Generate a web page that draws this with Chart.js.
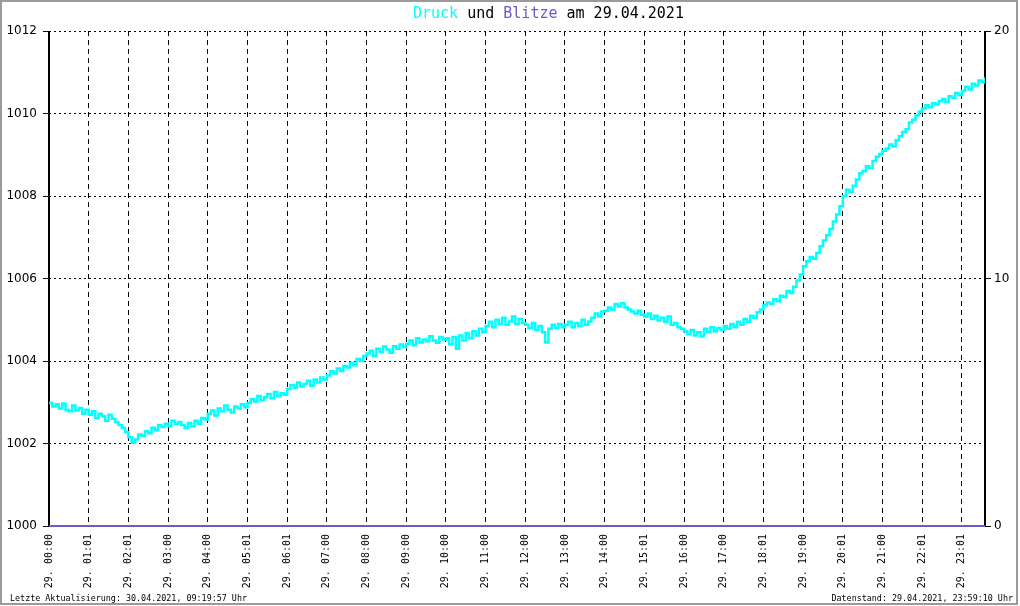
<!DOCTYPE html>
<html>
<head>
<meta charset="utf-8">
<title>Druck und Blitze am 29.04.2021</title>
<script src="https://cdn.jsdelivr.net/npm/chart.js@4/dist/chart.umd.min.js"></script>
<style>
  html, body { margin: 0; padding: 0; background: #fff; }
  #wrap { width: 1020px; height: 606px; }
</style>
</head>
<body>
<div id="wrap"><canvas id="chart" width="1020" height="606"></canvas></div>
<script>
// ── Tick labels (one per hour, 12 samples per hour) ──
const HOUR_LABELS = [
  "29. 00:00", "29. 01:01", "29. 02:01", "29. 03:00", "29. 04:00", "29. 05:01",
  "29. 06:01", "29. 07:00", "29. 08:00", "29. 09:00", "29. 10:00", "29. 11:00",
  "29. 12:00", "29. 13:00", "29. 14:00", "29. 15:01", "29. 16:00", "29. 17:00",
  "29. 18:01", "29. 19:00", "29. 20:01", "29. 21:00", "29. 22:01", "29. 23:01"
];
const SAMPLES_PER_HOUR = 12;

// ── Luftdruck (hPa), 5-min samples ──
const PRESSURE = [
  1002.98, 1002.90, 1002.95, 1002.85, 1002.97, 1002.82, 1002.78, 1002.92, 1002.80, 1002.86, 1002.72, 1002.82, // 00
  1002.70, 1002.78, 1002.62, 1002.72, 1002.66, 1002.55, 1002.70, 1002.60, 1002.52, 1002.45, 1002.38, 1002.28, // 01
  1002.15, 1002.02, 1002.10, 1002.22, 1002.18, 1002.30, 1002.25, 1002.38, 1002.32, 1002.45, 1002.40, 1002.48, // 02
  1002.42, 1002.55, 1002.48, 1002.52, 1002.45, 1002.38, 1002.50, 1002.42, 1002.55, 1002.48, 1002.62, 1002.58, // 03
  1002.72, 1002.80, 1002.68, 1002.85, 1002.78, 1002.92, 1002.82, 1002.75, 1002.90, 1002.85, 1002.95, 1002.88, // 04
  1002.98, 1003.08, 1003.02, 1003.15, 1003.05, 1003.12, 1003.20, 1003.10, 1003.25, 1003.15, 1003.22, 1003.18, // 05
  1003.32, 1003.42, 1003.35, 1003.48, 1003.38, 1003.45, 1003.52, 1003.40, 1003.55, 1003.48, 1003.60, 1003.55, // 06
  1003.65, 1003.75, 1003.70, 1003.82, 1003.76, 1003.88, 1003.84, 1003.95, 1003.90, 1004.05, 1004.00, 1004.12, // 07
  1004.18, 1004.25, 1004.12, 1004.30, 1004.22, 1004.35, 1004.28, 1004.20, 1004.36, 1004.30, 1004.40, 1004.34, // 08
  1004.42, 1004.50, 1004.38, 1004.55, 1004.45, 1004.52, 1004.48, 1004.60, 1004.50, 1004.44, 1004.58, 1004.52, // 09
  1004.55, 1004.40, 1004.58, 1004.30, 1004.62, 1004.50, 1004.68, 1004.55, 1004.72, 1004.62, 1004.78, 1004.70, // 10
  1004.85, 1004.95, 1004.82, 1005.00, 1004.90, 1005.05, 1004.88, 1004.96, 1005.08, 1004.90, 1005.02, 1004.92, // 11
  1004.88, 1004.80, 1004.92, 1004.75, 1004.85, 1004.70, 1004.45, 1004.78, 1004.88, 1004.80, 1004.90, 1004.82, // 12
  1004.88, 1004.95, 1004.82, 1004.92, 1004.85, 1005.00, 1004.88, 1004.96, 1005.05, 1005.15, 1005.08, 1005.20, // 13
  1005.22, 1005.30, 1005.25, 1005.38, 1005.32, 1005.40, 1005.30, 1005.25, 1005.20, 1005.15, 1005.22, 1005.12, // 14
  1005.08, 1005.15, 1005.02, 1005.10, 1004.98, 1005.05, 1004.95, 1005.08, 1004.88, 1004.92, 1004.82, 1004.78, // 15
  1004.72, 1004.65, 1004.75, 1004.62, 1004.70, 1004.60, 1004.78, 1004.70, 1004.82, 1004.72, 1004.80, 1004.75, // 16
  1004.85, 1004.78, 1004.90, 1004.82, 1004.95, 1004.88, 1005.02, 1004.95, 1005.10, 1005.05, 1005.18, 1005.25, // 17
  1005.35, 1005.42, 1005.38, 1005.50, 1005.45, 1005.58, 1005.55, 1005.70, 1005.65, 1005.80, 1005.95, 1006.10, // 18
  1006.30, 1006.42, 1006.52, 1006.48, 1006.62, 1006.78, 1006.92, 1007.05, 1007.20, 1007.38, 1007.55, 1007.75, // 19
  1008.00, 1008.15, 1008.10, 1008.25, 1008.40, 1008.55, 1008.60, 1008.72, 1008.68, 1008.85, 1008.95, 1009.02, // 20
  1009.10, 1009.15, 1009.25, 1009.20, 1009.35, 1009.45, 1009.55, 1009.62, 1009.78, 1009.85, 1009.95, 1010.05, // 21
  1010.12, 1010.20, 1010.15, 1010.25, 1010.22, 1010.30, 1010.35, 1010.28, 1010.42, 1010.38, 1010.50, 1010.45, // 22
  1010.55, 1010.65, 1010.58, 1010.72, 1010.68, 1010.80, 1010.76, 1010.88                                      // 23
];

// ── Blitze pro Stunde ──
const BLITZE = [
  0, 0, 0, 0, 0, 0, 0, 0, 0, 0, 0, 0,
  0, 0, 0, 0, 0, 0, 0, 0, 0, 0, 0, 0
];

const TITLE_PARTS = [
  ["Druck", "#00ffff"], [" und ", "#000000"], ["Blitze", "#6a5acd"], [" am 29.04.2021", "#000000"]
];
const FOOT_LEFT  = "Letzte Aktualisierung: 30.04.2021, 09:19:57 Uhr";
const FOOT_RIGHT = "Datenstand: 29.04.2021, 23:59:10 Uhr";

// ── Build points ──
const LAST_IDX = PRESSURE.length - 1;
const pressurePts = PRESSURE.map((v, i) => ({ x: i, y: v }));
const blitzePts = BLITZE.map((v, h) => ({ x: h * SAMPLES_PER_HOUR, y: v }));
blitzePts.push({ x: LAST_IDX, y: BLITZE[BLITZE.length - 1] });

/* ================================================================
   Title, footer, frame
   ================================================================ */
const decorPlugin = {
  id: "decor",
  afterDraw(chart) {
    const ctx = chart.ctx;
    ctx.save();
    ctx.setLineDash([]);

    // title in two colours
    ctx.font = '15px "DejaVu Sans Mono"';
    ctx.textBaseline = "middle";
    ctx.textAlign = "left";
    let x = 413;
    TITLE_PARTS.forEach(([txt, col]) => {
      ctx.fillStyle = col;
      ctx.fillText(txt, x, 14);
      x += ctx.measureText(txt).width;
    });

    // footer
    ctx.font = '8.4px "DejaVu Sans Mono"';
    ctx.fillStyle = "#000";
    ctx.textBaseline = "alphabetic";
    ctx.fillText(FOOT_LEFT, 10, 601);
    ctx.textAlign = "right";
    ctx.fillText(FOOT_RIGHT, 1013, 601);

    // gray frame
    ctx.strokeStyle = "#9a9a9a";
    ctx.lineWidth = 2;
    ctx.strokeRect(1, 1, 1016, 603);
    ctx.restore();
  }
};

// solid axis lines drawn over the dashed grid
const axisPlugin = {
  id: "axisLines",
  beforeDatasetsDraw(chart) {
    const { ctx, chartArea: a } = chart;
    ctx.save();
    ctx.setLineDash([]);
    ctx.strokeStyle = "#000";
    ctx.lineWidth = 2;
    ctx.beginPath();
    ctx.moveTo(a.left, a.top); ctx.lineTo(a.left, a.bottom);
    ctx.moveTo(a.right, a.top); ctx.lineTo(a.right, a.bottom);
    ctx.stroke();
    ctx.lineWidth = 1;
    ctx.beginPath();
    ctx.moveTo(a.left, a.bottom); ctx.lineTo(a.right, a.bottom);
    ctx.stroke();
    ctx.restore();
  }
};

new Chart(document.getElementById("chart"), {
  type: "line",
  data: {
    datasets: [
      {
        label: "Blitze",
        data: blitzePts,
        yAxisID: "y2",
        borderColor: "#6a5acd",
        borderWidth: 2,
        pointRadius: 0,
        stepped: true,
        clip: false,
        order: 0
      },
      {
        label: "Druck",
        data: pressurePts,
        yAxisID: "y",
        borderColor: "#00ffff",
        borderWidth: 2.5,
        pointRadius: 0,
        stepped: true,
        order: 1
      }
    ]
  },
  options: {
    responsive: false,
    animation: false,
    layout: { padding: { top: 31, left: 0, right: 0, bottom: 0 } },
    plugins: {
      legend: { display: false },
      tooltip: { enabled: false }
    },
    scales: {
      x: {
        type: "linear",
        min: 0,
        max: LAST_IDX,
        afterFit(s) { s.height = 80; },
        afterBuildTicks(s) {
          s.ticks = s.ticks.filter(t => t.value % SAMPLES_PER_HOUR === 0);
        },
        ticks: {
          stepSize: SAMPLES_PER_HOUR,
          autoSkip: false,
          minRotation: 90,
          maxRotation: 90,
          padding: 8,
          color: "#000",
          font: { family: "DejaVu Sans Mono", size: 10 },
          callback: v => HOUR_LABELS[v / SAMPLES_PER_HOUR] || ""
        },
        grid: {
          color: "#000",
          lineWidth: 1,
          drawTicks: false
        },
        border: { display: false, dash: [5, 4] }
      },
      y: {
        position: "left",
        min: 1000,
        max: 1012,
        afterFit(s) { s.width = 49; },
        ticks: {
          stepSize: 2,
          padding: 6,
          color: "#000",
          font: { family: "DejaVu Sans", size: 12 },
          callback: v => String(v)
        },
        grid: {
          color: "#000",
          lineWidth: 1,
          tickBorderDash: [],
          tickLength: 6,
          tickColor: "#000"
        },
        border: { display: false, dash: [2, 3] }
      },
      y2: {
        position: "right",
        min: 0,
        max: 20,
        afterFit(s) { s.width = 35; },
        ticks: {
          stepSize: 10,
          padding: 3,
          color: "#000",
          font: { family: "DejaVu Sans", size: 12 }
        },
        grid: {
          drawOnChartArea: false,
          tickBorderDash: [],
          tickLength: 6,
          tickColor: "#000"
        },
        border: { display: false }
      }
    }
  },
  plugins: [axisPlugin, decorPlugin]
});
</script>
</body>
</html>
